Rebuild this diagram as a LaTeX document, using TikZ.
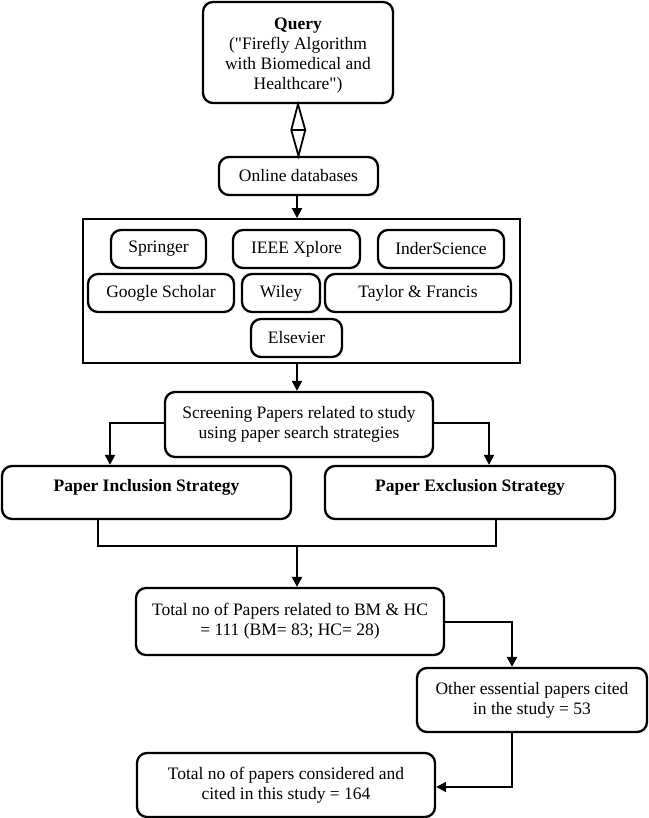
\documentclass[tikz,border=0pt]{standalone}
\usepackage{fontspec}
\setmainfont{Liberation Serif}[Ligatures=TeXOff]
\usetikzlibrary{arrows.meta,calc}
\begin{document}
\begin{tikzpicture}[x=1pt,y=-1pt,
  every node/.style={font=\fontsize{17.5}{20}\selectfont},
  rbox/.style={draw,line width=2.3pt,rounded corners=10pt,inner sep=0pt,align=center},
  dbbox/.style={draw,line width=1.8pt,inner sep=0pt},
  conn/.style={line width=2.2pt},
  arr/.style={line width=2.2pt,-{Triangle[length=10pt,width=10pt]}}]
\useasboundingbox (0,0) rectangle (648,818);
% nodes
\node[rbox,minimum width=190pt,minimum height=101pt,
  label={[yshift=-3pt,align=center,font=\fontsize{17.5}{20}\selectfont]center:\textbf{Query}\\("Firefly Algorithm\\with Biomedical and\\Healthcare")}] (q) at (298,52.5) {};
\node[rbox,minimum width=159pt,minimum height=38pt] (online) at (298.5,176) {Online databases};
\node[dbbox,minimum width=437pt,minimum height=144pt] (db) at (301.5,291) {};
\node[rbox,minimum width=95pt,minimum height=38pt] (springer) at (158.5,249) {Springer};
\node[rbox,minimum width=127pt,minimum height=38pt] (ieee) at (296.5,249) {IEEE Xplore};
\node[rbox,minimum width=126pt,minimum height=38pt] (inder) at (441,249) {InderScience};
\node[rbox,minimum width=146pt,minimum height=38pt] (google) at (161,293) {Google Scholar};
\node[rbox,minimum width=78pt,minimum height=38pt] (wiley) at (281,293) {Wiley};
\node[rbox,minimum width=186pt,minimum height=38pt] (taylor) at (418,293) {Taylor \& Francis};
\node[rbox,minimum width=91pt,minimum height=38pt] (elsevier) at (296.5,338) {Elsevier};
\node[rbox,minimum width=268pt,minimum height=65pt] (screen) at (299,424.5)
  {Screening Papers related to study\\using paper search strategies};
\node[rbox,minimum width=289pt,minimum height=53pt,
  label={[yshift=5.5pt,font=\fontsize{17.5}{20}\selectfont\bfseries]center:Paper Inclusion Strategy}] (inc) at (146.5,492.5) {};
\node[rbox,minimum width=290pt,minimum height=53pt,
  label={[yshift=5.5pt,font=\fontsize{17.5}{20}\selectfont\bfseries]center:Paper Exclusion Strategy}] (exc) at (470,492.5) {};
\node[rbox,minimum width=308pt,minimum height=67pt] (total) at (290,621.5)
  {Total no of Papers related to BM \& HC\\= 111 (BM= 83; HC= 28)};
\node[rbox,minimum width=230pt,minimum height=64pt] (other) at (532,700)
  {Other essential papers cited\\in the study = 53};
\node[rbox,minimum width=298pt,minimum height=64pt] (final) at (286,785)
  {Total no of papers considered and\\cited in this study = 164};
% diamond connector
\coordinate (dm) at ($(q.south)!0.5!(online.north)$);
\draw[line width=1.8pt,line join=miter] (q.south) -- ([xshift=7pt]dm) -- (online.north) -- ([xshift=-7pt]dm) -- cycle;
\draw[line width=1.8pt] ([xshift=-7pt]dm) -- ([xshift=7pt]dm);
% connectors
\draw[arr] ([xshift=-1.5pt]online.south) -- ([xshift=-1.5pt]online.south |- db.north);
\draw[arr] ([xshift=-4.5pt]db.south) -- ([xshift=-4.5pt]db.south |- screen.north);
\draw[arr] ([yshift=1.5pt]screen.west) -| ([xshift=-36.5pt]inc.north);
\draw[arr] ([yshift=1.5pt]screen.east) -| ([xshift=19pt]exc.north);
\coordinate (j) at (297,546);
\draw[conn] ([xshift=-48.5pt]inc.south) |- (j) -| ([xshift=26pt]exc.south);
\draw[arr] (j) -- (j |- total.north);
\draw[arr] ([yshift=-0.5pt]total.east) -| ([xshift=-20pt]other.north);
\draw[arr] ([xshift=-20pt]other.south) |- ([yshift=-2pt]final.east);
\end{tikzpicture}
\end{document}
